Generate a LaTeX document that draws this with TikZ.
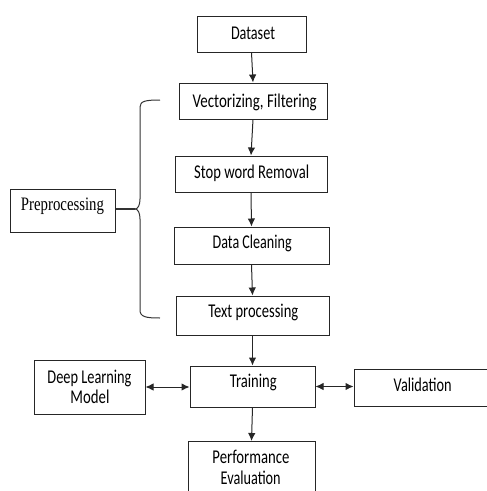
\documentclass[tikz,border=0pt]{standalone}
\usepackage{fontspec}
\usepackage{graphicx}
\setmainfont{Carlito}
\newfontfamily\prepfont{Liberation Serif}
\usetikzlibrary{arrows.meta}
\newcommand{\fitw}[2]{\resizebox{#1}{\height}{#2}}
\tikzset{
  stepbox/.style={draw=black!85, line width=1pt, rectangle, inner sep=0pt},
  txt/.style={inner sep=0pt, anchor=base, font=\fontsize{19.5}{20}\selectfont},
  arr/.style={draw=black!85, line width=1pt, -{Latex[length=8pt,width=7.5pt]}},
  darr/.style={draw=black!85, line width=1pt, {Latex[length=8pt,width=7.5pt]}-{Latex[length=8pt,width=7.5pt]}},
}
\begin{document}
\begin{tikzpicture}[x=1pt,y=-1pt]
\useasboundingbox (0,0) rectangle (487,491);
\begin{scope}
\clip (0,0) rectangle (487,491);
% boxes
\node[stepbox, minimum width=109pt, minimum height=36pt] (dataset) at (251.5,34) {};
\node[stepbox, minimum width=148pt, minimum height=36pt] (vec) at (253,101) {};
\node[stepbox, minimum width=152pt, minimum height=36pt] (stop) at (251,174) {};
\node[stepbox, minimum width=155pt, minimum height=37pt] (clean) at (251.5,245.5) {};
\node[stepbox, minimum width=153pt, minimum height=39pt] (textp) at (252.5,315.5) {};
\node[stepbox, minimum width=125pt, minimum height=41pt] (train) at (252.5,386.5) {};
\node[stepbox, minimum width=111pt, minimum height=54pt] (dl) at (89.5,387) {};
\node[stepbox, minimum width=133pt, minimum height=37pt] (val) at (420.5,387.5) {};
\node[stepbox, minimum width=127pt, minimum height=70pt, anchor=north] (perf) at (251.5,441) {};
\node[stepbox, minimum width=105pt, minimum height=43pt] (prep) at (62.5,210.5) {};
% texts
\node[txt] (tdataset) at (253,39.7) {\fitw{44pt}{Dataset}};
\node[txt] (tvec) at (254.7,107.5) {\fitw{124pt}{Vectorizing, Filtering}};
\node[txt] (tstop) at (251.7,178.7) {\fitw{115pt}{Stop word Removal}};
\node[txt] (tclean) at (252.2,248.7) {\fitw{79pt}{Data Cleaning}};
\node[txt] (ttextp) at (253.3,317) {\fitw{90pt}{Text processing}};
\node[txt] (ttrain) at (253.3,387.3) {\fitw{47pt}{Training}};
\node[txt] (tdl1) at (89.5,383.3) {\fitw{84pt}{Deep Learning}};
\node[txt] (tdl2) at (90,403.3) {\fitw{39pt}{Model}};
\node[txt] (tval) at (422.7,391) {\fitw{58pt}{Validation}};
\node[txt] (tperf1) at (251,463.3) {\fitw{77pt}{Performance}};
\node[txt] (tperf2) at (250.7,484) {\fitw{60pt}{Evaluation}};
\node[txt, font=\prepfont\fontsize{19}{20}\selectfont] (tprep) at (62.5,210) {\fitw{83pt}{Preprocessing}};
\end{scope}
% connectors
\draw[arr] (dataset.south) -- (vec.north);
\draw[arr] (vec.south) -- (stop.north);
\draw[arr] (stop.south) -- (clean.north);
\draw[arr] (clean.south) -- (textp.north);
\draw[arr] (textp.south) -- (train.north);
\draw[arr] (train.south) -- (perf.north);
\draw[darr] (dl.east) -- (train.west |- dl.east);
\draw[darr] (train.east) -- (val.west |- train.east);
% brace
\coordinate (btop) at (160,100);
\coordinate (bbot) at (160,318);
\coordinate (bcusp) at (135,209);
\draw[black!80, line width=1pt] (btop) .. controls (146,100) and (140,101) .. (140,107) -- (140,199) .. controls (140,205) and (138,209) .. (bcusp) .. controls (138,209) and (140,213) .. (140,219) -- (140,310) .. controls (140,317) and (146,318) .. (bbot);
\draw[black!80, line width=1.2pt] (prep.east |- bcusp) -- (bcusp);
\end{tikzpicture}
\end{document}
